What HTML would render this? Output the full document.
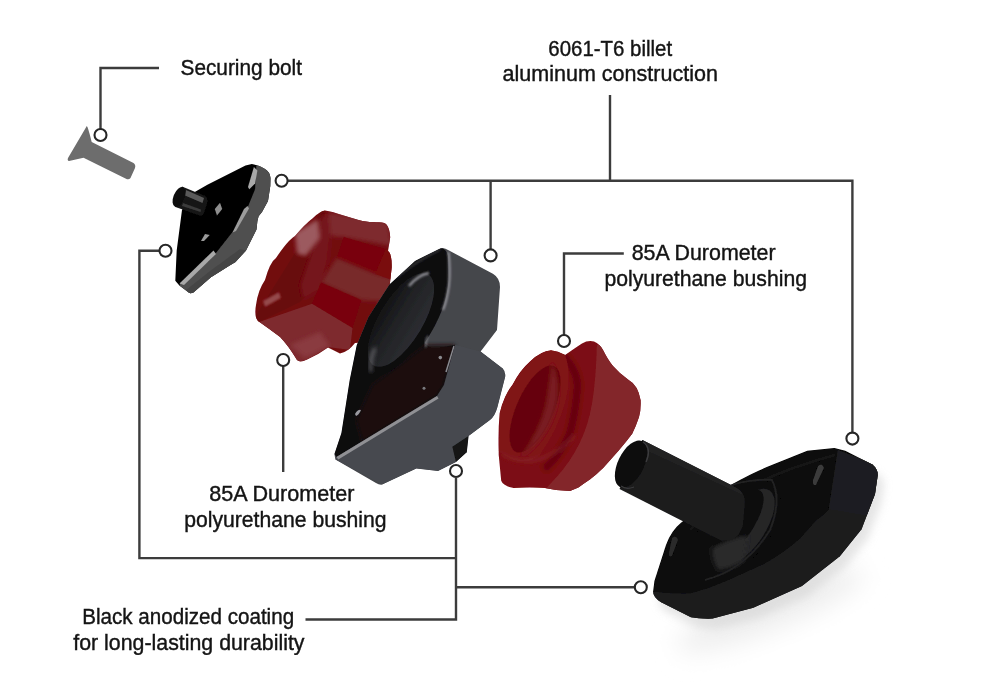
<!DOCTYPE html>
<html><head><meta charset="utf-8">
<style>
html,body{margin:0;padding:0;background:#fff;}
body{width:1000px;height:684px;overflow:hidden;position:relative;}
svg{position:absolute;left:0;top:0;}
.leaders circle{stroke:#262626;stroke-width:2.1px;}
text{font-family:"Liberation Sans",sans-serif;font-size:21.6px;fill:#141414;stroke:#141414;stroke-width:0.4px;}
</style></head>
<body>
<svg width="1000" height="684" viewBox="0 0 1000 684">
<defs>
  <linearGradient id="recessG" x1="0" y1="0" x2="1" y2="0"><stop offset="0" stop-color="#131315"/><stop offset="0.45" stop-color="#222326"/><stop offset="1" stop-color="#2c2d31"/></linearGradient>
  <filter id="soft" x="-20%" y="-20%" width="140%" height="140%"><feGaussianBlur stdDeviation="0.5"/></filter>
  <filter id="blur1" x="-50%" y="-50%" width="200%" height="200%"><feGaussianBlur stdDeviation="0.9"/></filter>
  <filter id="blur2" x="-50%" y="-50%" width="200%" height="200%"><feGaussianBlur stdDeviation="2"/></filter>
  <filter id="blur4" x="-50%" y="-50%" width="200%" height="200%"><feGaussianBlur stdDeviation="4"/></filter>
  <filter id="shadow" x="-50%" y="-50%" width="200%" height="200%"><feGaussianBlur stdDeviation="12"/></filter>
  <clipPath id="clipRedL"><path id="redLpath" d="M325,210.5 C335,212 350,218 362.5,221 C372,223 382,221 386,224 Q390,228 390.2,237.5 L388,251 Q392,254 391.7,267.5 L389.5,287 L385,300 L371,342 L355,343 Q348,352 340,353.5 L328,347.5 Q318,355 307,359.5 Q300,363 297,360 Q288,345 280,337 Q268,328 258,321 Q254,316 256,305 Q258,290 265,280 Q270,262 276,258 Q288,240 295,236 Q305,224 313,218 Q320,211 325,210.5 Z"/></clipPath>
  <clipPath id="clipHousing"><path d="M440.8,248.2 Q444,247 449,250.5 L492.9,273.8 Q500,278 500,287.1 L497,330 L480.6,351.6 L502.8,368.6 Q506,372 505.2,376.8 L497.4,407.2 Q495,416 490,420 L468.6,436 L466.8,452.2 L456,462 L438,471 L416.4,468.4 L382.2,484.6 Q379,485 376,483 L335.4,459.4 L334.4,454 L341.4,433 L349.7,380 L356.7,345.2 L368.4,317 L389.4,284.4 L415,261 Z"/></clipPath>
  <clipPath id="clipRedR"><path id="redRpath" d="M499.7,412.9 Q504,395 512.5,384.8 Q520,370 530,361.4 Q541,351 551,350.3 Q558,351 565.2,355 Q575,348 582,343.5 Q588,340 594,341.5 Q600,344 603,350 Q608,360 613,366 Q620,374 628.3,379.7 Q638,385 640.6,400.2 Q641,410 639,417 Q636,426 632.2,433.8 Q626,442 618.7,450.6 L603.6,467.4 Q597,474 590.2,479.2 Q583,484 578.4,487.6 L570,491 Q558,491 544.7,488 Q530,487 513.6,488 Q503,486 501.2,480.8 L498.7,454.7 L498.7,451 Q498,430 499.7,412.9 Z"/></clipPath>
  <clipPath id="clipBase"><path id="basePath" d="M834.4,448.1 L845.2,450.8 L872.3,464.4 Q878,469 877.7,475.2 L875,494 L861.5,529.3 L839.8,556.3 L801.9,586.1 L753.2,607.7 L712.6,618.6 Q700,619 691,617.2 L661.2,602.3 Q653,597 653.1,591.5 L654.5,580.7 L666,545 Q671,531 681,522.8 L731.6,484.6 Q750,474 766.8,467.1 L807.3,450.8 Z"/></clipPath>
</defs>

<!-- ===== Bolt ===== -->
<g filter="url(#soft)">
<path d="M86.8,126 Q88,127 91.7,141.9 L133.5,163 Q136,165 135,168 L130.5,178 Q129,180 126.5,179 L83.5,157.8 L69,161 Q67,160.5 68,158 Z" fill="#6d6d6d"/>
</g>

<!-- ===== End cap (top-left) ===== -->
<g filter="url(#soft)">
<path d="M251.9,163.9 Q259,165 264.6,168.8 Q270,172 270.5,178 L270.3,186 L268,201 L262,212 L258.6,216.2 L257.4,221 L256.5,229.4 L246,250.4 L235.5,262 L229.6,265.6 L210.9,277.3 L193.4,292.5 Q190,294 188.7,292.5 L179.4,285.5 L175.3,280.8 L176.7,250.4 L182,210.1 L192.6,193.2 L207.4,184.7 L245.5,165.6 Z" fill="#040404"/>
<path d="M256.3,166 Q259,165 264.6,168.8 Q270,172 270.5,178 L270.3,186 L268,201 L262,212 L258.6,216.2 L257.4,221 L256.5,229.4 L246,250.4 L235.5,262 L229.6,265.6 L210.9,277.3 L193.4,292.5 Q190,294 188.7,292.5 L179.4,285.5 L180.5,283.1 L208.6,260.9 L214.4,255 L235.5,228.2 L246.9,209.2 L255.1,189.3 Z" fill="#505050"/>
<path d="M246,250.4 L235.5,262 L229.6,265.6 L210.9,277.3 L193.4,292.5 Q190,294 188.7,292.5 L186,290 L210,271 L240,249 Z" fill="#454545"/>
<path d="M253.9,167 L257.4,170.5 L255.1,183.4 L249.3,189.3 L248,187 Z" fill="#a8a8a8"/>
<path d="M247.5,206 L249,208.5 L236,231 L232.5,232.5 L244,209 Z" fill="#9c9c9c"/>
<path d="M213.5,250.5 L216,254 L184,285 L179.5,283.5 Z" fill="#a8a8a8"/>
<path d="M201,241 L205,234 L209.7,235 L204,241 Z" fill="#9a9a9a"/>
<!-- stud -->
<path d="M182,186.5 L205,196 Q208,198 207,203 L204,213 Q203,216 200,215.5 L175.4,207 Z" fill="#161616"/>
<path d="M186,190 L204,198 L202.5,203 L185,195.5 Z" fill="#5a5a5a"/>
<path d="M183,203 L201,209.5 L200.5,212 L182,206 Z" fill="#3a3a3a"/>
<ellipse cx="179" cy="197" rx="5.5" ry="10.5" transform="rotate(22 179 197)" fill="#0a0a0a"/>
<path d="M214.8,209 L220,202.7 L222.2,209 L217,215.4 Z" fill="#8e8e8e"/>
</g>

<!-- ===== Red bushing left ===== -->
<g filter="url(#soft)">
<use href="#redLpath" fill="#720a0e"/>
<g clip-path="url(#clipRedL)">
  <!-- flange face darker -->
  <path d="M250,325 L325,205 L322,245 L312,290 L300,302 L259,322 Z" fill="#680809"/>
  <!-- crease band -->
  <path d="M322,214 L333,218 L328,262 L320,290 L303,300 L300,285 L312,250 Z" fill="#74161a" filter="url(#blur2)"/>
  <path d="M295,233 L318,219 L320,238 L306,256 L297,254 Z" fill="#9c5a5e" filter="url(#blur2)"/>
  <path d="M263,301 L279,292 L281,298 L265,307 Z" fill="#94484c" filter="url(#blur1)"/>
  <!-- right flute area -->
  <path d="M328,212 L388,222 L392,246 L343,237 L330,236 Z" fill="#7e2a2e" filter="url(#blur2)"/>
  <path d="M343.7,237 L385.8,249.3 L375.3,273.9 L336.7,258 Z" fill="#790008"/>
  <path d="M336.7,258 L375.3,273.9 L392,278 L390,302 L361.2,300 L321,282.6 Z" fill="#782a2c" filter="url(#blur2)"/>
  <path d="M321,282.6 L361.2,300 L352.5,328 L312,303.7 Z" fill="#790008"/>
  <path d="M385.8,249.3 L392,252 L392,280 L375.3,273.9 Z" fill="#7a0a10"/>
  <path d="M259,322 L312,303.7 L352.5,328 L350,350 L328,347 L307,360 L297,362 L280,337 Z" fill="#7e2a2e"/>
  <path d="M290,345 L320,332 L330,346 L305,358 Z" fill="#8a3a40" filter="url(#blur2)"/>
</g>
</g>

<!-- ===== Housing (center) ===== -->
<g filter="url(#soft)">
<g clip-path="url(#clipHousing)">
  <rect x="320" y="240" width="200" height="260" fill="#45464b"/>
  <!-- front face -->
  <path d="M440.8,248.2 Q446,248 448,256 L448.5,280 C447.5,300 439,322 424.6,343 Q430,348 435,348.5 L455,344.7 L444,385 L437,396 L336.5,457 L334.4,454 L341.4,433 L349.7,380 L356.7,345.2 L368.4,317 L389.4,284.4 L415,261 Q430,250 440.8,248.2 Z" fill="#0d0d0f"/>
  <path d="M455,344.7 L444,385 L437,396 L362,442 L356,420 L372,385 L398,366 L426,345 Z" fill="#1a0f11" filter="url(#blur2)"/>
  <circle cx="440.3" cy="357.6" r="1.8" fill="#8a8a8e"/>
  <circle cx="424" cy="388.3" r="1.5" fill="#7a7a7e"/>
  <ellipse cx="398.6" cy="322.8" rx="27" ry="60" transform="rotate(31 398.6 322.8)" fill="#0a0a0b"/>
  <ellipse cx="401" cy="320" rx="22" ry="53" transform="rotate(31 401 320)" fill="url(#recessG)"/>
  <path d="M409,286 Q418,275 429,273" stroke="#8e8e94" stroke-width="2.6" fill="none" filter="url(#blur1)"/>
  <path d="M397,277 Q415,262 440,249.5" stroke="#505054" stroke-width="1.2" fill="none" filter="url(#blur1)"/>
  <path d="M371,372 Q369,360 375,348" stroke="#8a8a90" stroke-width="2" fill="none" filter="url(#blur2)"/>
  <path d="M448.5,252 Q450.5,270 449,285 Q447,300 443,310" stroke="#9a9aa0" stroke-width="2" fill="none" filter="url(#blur1)"/>
  <path d="M428,336 Q425,342 426,347" stroke="#8a8a90" stroke-width="1.5" fill="none" filter="url(#blur1)"/>
  <path d="M454,346 L446,372" stroke="#8a8a90" stroke-width="1.5" fill="none"/>
  
  <!-- bottom face -->
  <path d="M336.5,457 L437,396 L444,385 L455,344.7 L480.6,351.6 L502.8,368.6 L505.2,376.8 L497.4,407.2 Q495,416 490,420 L468.6,436 L452.4,446.8 L456,462 L438,471 L416.4,468.4 L382.2,484.6 L335.4,459.4 Z" fill="#46494f"/>
  <path d="M452.4,446.8 L468.6,436 L466.8,452.2 L456,462 Z" fill="#121212"/>
  <path d="M336.5,457 L437,396 L438.5,398.5 L338.3,459.5 Z" fill="#909094"/>
  <path d="M355,414 Q358,409 361,410 Q359,415 356,416 Z" fill="#9a9aa0"/>
</g>
</g>

<!-- ===== Red bushing right ===== -->
<g filter="url(#soft)">
<g clip-path="url(#clipRedR)">
  <rect x="490" y="335" width="160" height="160" fill="#7c0c12"/>
  <!-- flange outer surface (right, lighter) -->
  <path d="M596.8,345 Q596,380 591.8,404.5 Q585,445 557,476.6 L540,495 L650,495 L650,335 Z" fill="#83252a"/>
  <!-- groove -->
  <path d="M562,354.9 Q580,372 577,392 Q575,415 569.5,434.4 Q560,455 544.6,469.2" stroke="#65060a" stroke-width="7" fill="none" filter="url(#blur2)"/>
  <!-- small cylinder rim -->
  <path d="M499.7,412.9 Q504,395 512.5,384.8 Q520,370 530,361.4 Q541,351 551,350.3 Q558,351 565.2,355 Q572,375 566,400 Q558,430 540,455 Q520,470 498.7,451 Z" fill="#801318"/>
  <!-- bore -->
  <ellipse cx="535" cy="409" rx="18.5" ry="47" transform="rotate(24 535 409)" fill="#66060a"/>
  <path d="M552,362 Q562,385 555,410 Q546,440 520,458 Q540,430 546,405 Q550,380 552,362 Z" fill="#7a1c21" filter="url(#blur2)"/>
  <!-- lip edge highlight -->
  <path d="M500,454 Q522,467 545,457 Q565,448 575,435" stroke="#8e3a3f" stroke-width="1.4" fill="none" filter="url(#blur2)"/>
</g>
</g>

<!-- ===== Base (bottom right) ===== -->
<ellipse cx="770" cy="610" rx="100" ry="20" transform="rotate(-22 770 610)" fill="#eeeeee" filter="url(#shadow)"/>
<use href="#basePath" transform="translate(6,10)" fill="#d0d0d0" opacity="0.55" filter="url(#blur4)"/>
<g filter="url(#soft)">
<g clip-path="url(#clipBase)">
  <rect x="640" y="440" width="250" height="190" fill="#070707"/>
  <!-- side band -->
  <path d="M654,591.4 Q670,594 690.7,593.2 Q710,588 727.3,580.4 L763.8,564 Q785,552 800,538.4 L816,520.4 Q824,515 828.7,509.5 L837.8,450 L890,470 L890,630 L640,630 Z" fill="#1d1d1e"/>
  <path d="M837.8,450 L828.7,509.5 L890,520 L890,470 Z" fill="#1f1f20"/>
  <!-- inner bevel -->
  <path d="M690,530 Q740,480 835,455" stroke="#151515" stroke-width="3" fill="none"/>
  <!-- collar -->
  <ellipse cx="737" cy="528" rx="32" ry="56" transform="rotate(40 737 528)" fill="#0f0f10"/>
  <ellipse cx="745" cy="527" rx="20" ry="44" transform="rotate(34 745 527)" fill="#262628"/>
  <ellipse cx="738" cy="524" rx="15" ry="40" transform="rotate(34 738 524)" fill="#0c0c0c"/>
  <path d="M712,548 Q730,538 748,535 L744,560 Q735,568 718,570 Q712,560 712,548 Z" fill="#29292b" filter="url(#blur2)"/>
  <path d="M700,500 Q735,478 772,480 Q782,500 770,530 Q745,570 705,580" stroke="#202022" stroke-width="2" fill="none"/>
  <path d="M818,466 Q822,462 824,468 L816,485 Q812,486 813,480 Z" fill="#3a3a3a"/>
  <path d="M672,538 Q676,534 678,540 L672,556 Q668,558 669,552 Z" fill="#2a2a2a"/>
</g>
<!-- tube -->
<path d="M642.4,440 L735,487 Q745,492 745,502 L743,525 Q740,537 730,540 L721.8,541 L619.5,489 Z" fill="#1b1b1c"/>
<path d="M642.4,440 L735,487 Q741,490 743,495 L639,447 Z" fill="#222224"/>
<ellipse cx="631" cy="464" rx="13" ry="25.5" transform="rotate(26 631 464)" fill="#0b0b0b"/>
<path d="M643,442 Q652,448 646,462" stroke="#3a3a3c" stroke-width="1.5" fill="none"/>
<path d="M621,486 Q626,490 634,487" stroke="#3a3a3c" stroke-width="1.2" fill="none"/>
</g>

<!-- leader lines -->
<g class="leaders" fill="none" stroke="#3c3c3c" stroke-width="2.4">
  <path d="M159,68 H100.5 V129"/>
  <circle cx="100.5" cy="135" r="6"/>
  <path d="M610,95 V180.8"/>
  <path d="M288,180.8 H852.4 V432.5"/>
  <circle cx="281.6" cy="180.8" r="6"/>
  <circle cx="852.4" cy="438.6" r="6"/>
  <path d="M490.6,180.8 V249.5"/>
  <circle cx="490.6" cy="255.4" r="6"/>
  <path d="M623.8,253.5 H564 V335"/>
  <circle cx="564" cy="341" r="6"/>
  <path d="M283.2,366 V472"/>
  <circle cx="283.2" cy="360" r="6"/>
  <path d="M159.5,250.8 H139.4 V558.1 H456"/>
  <circle cx="165.5" cy="250.8" r="6"/>
  <circle cx="456" cy="471" r="6"/>
  <path d="M456,477 V619.5 H305.5"/>
  <path d="M456,587.2 H635"/>
  <circle cx="640.8" cy="587.2" r="6"/>
</g>
<!-- labels -->
<g opacity="0.999">
<text x="180.5" y="75.2" textLength="121.5" lengthAdjust="spacingAndGlyphs">Securing bolt</text>
<text x="548.3" y="55.8" textLength="123.8" lengthAdjust="spacingAndGlyphs">6061-T6 billet</text>
<text x="502.6" y="81" textLength="215.3" lengthAdjust="spacingAndGlyphs">aluminum construction</text>
<text x="631.7" y="260" textLength="143.9" lengthAdjust="spacingAndGlyphs">85A Durometer</text>
<text x="604.4" y="286" textLength="202.6" lengthAdjust="spacingAndGlyphs">polyurethane bushing</text>
<text x="209.2" y="500.8" textLength="145.3" lengthAdjust="spacingAndGlyphs">85A Durometer</text>
<text x="184.2" y="527" textLength="202.4" lengthAdjust="spacingAndGlyphs">polyurethane bushing</text>
<text x="82.3" y="623.7" textLength="211.8" lengthAdjust="spacingAndGlyphs">Black anodized coating</text>
<text x="73.3" y="649.5" textLength="231.2" lengthAdjust="spacingAndGlyphs">for long-lasting durability</text>
</g>
</svg>
</body></html>
